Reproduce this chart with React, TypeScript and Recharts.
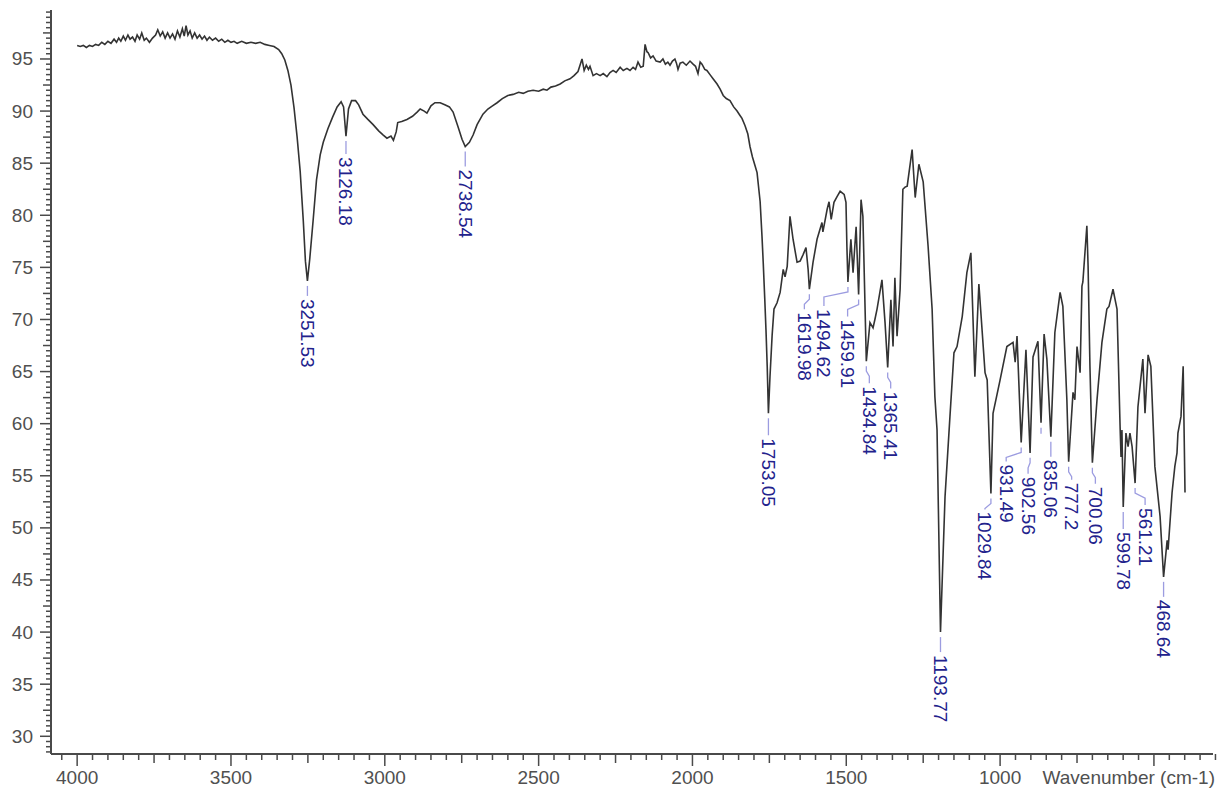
import React from "react";
import { ComposedChart, Line, Scatter, XAxis, YAxis } from "recharts";

// ─── Data (wavenumber cm-1, %T) ───────────────────────────────────────────────

const SPECTRUM_POINTS: [number, number][] = [
  [4000, 96.3], [3990, 96.2], [3980, 96.3], [3970, 96.1], [3960, 96.3], [3950, 96.2],
  [3940, 96.4], [3930, 96.3], [3920, 96.6], [3910, 96.4], [3900, 96.7], [3890, 96.5],
  [3880, 96.9], [3872, 96.6], [3865, 97.0], [3858, 96.7], [3850, 97.2], [3843, 96.8],
  [3835, 97.3], [3828, 96.9], [3820, 97.1], [3812, 96.7], [3805, 97.3], [3797, 96.9],
  [3790, 97.5], [3782, 96.8], [3775, 97.0], [3765, 96.6], [3755, 97.0], [3745, 97.3],
  [3738, 97.8], [3730, 97.2], [3722, 97.6], [3714, 97.0], [3706, 97.5], [3698, 97.0],
  [3690, 97.4], [3682, 96.9], [3674, 97.7], [3666, 97.1], [3658, 97.9], [3652, 97.2],
  [3646, 98.2], [3640, 97.3], [3633, 97.7], [3626, 97.0], [3618, 97.5], [3610, 97.0],
  [3602, 97.3], [3594, 96.9], [3586, 97.2], [3578, 96.8], [3570, 97.1], [3560, 96.8],
  [3550, 97.0], [3540, 96.7], [3530, 96.9], [3520, 96.6], [3510, 96.8], [3500, 96.6],
  [3490, 96.7], [3480, 96.5], [3465, 96.7], [3450, 96.5], [3435, 96.6], [3420, 96.5],
  [3405, 96.6], [3390, 96.4], [3375, 96.3], [3360, 96.2], [3345, 95.9], [3335, 95.5],
  [3325, 94.9], [3315, 93.9], [3305, 92.5], [3295, 90.3], [3285, 87.5], [3275, 84.2],
  [3265, 79.5], [3258, 75.6], [3251.53, 73.7], [3244, 75.8], [3233, 79.5], [3222, 83.4],
  [3210, 85.8], [3200, 87.0], [3185, 88.3], [3170, 89.4], [3155, 90.4], [3142, 90.9],
  [3134, 90.4], [3126.18, 87.6], [3118, 90.2], [3108, 91.0], [3095, 91.0], [3085, 90.6],
  [3071, 89.7], [3055, 89.2], [3038, 88.7], [3020, 88.1], [3005, 87.7], [2993, 87.4],
  [2980, 87.6], [2972, 87.2], [2963, 88.0], [2958, 88.9], [2945, 89.0], [2928, 89.2],
  [2910, 89.5], [2895, 89.9], [2885, 90.2], [2872, 90.0], [2863, 89.8], [2850, 90.5],
  [2837, 90.8], [2820, 90.8], [2805, 90.6], [2790, 90.4], [2778, 89.9], [2762, 88.5],
  [2749, 87.3], [2738.54, 86.6], [2725, 87.0], [2713, 87.7], [2700, 88.7], [2681, 89.7],
  [2665, 90.2], [2650, 90.5], [2635, 90.8], [2618, 91.2], [2600, 91.5], [2583, 91.6],
  [2565, 91.8], [2550, 91.7], [2535, 91.9], [2518, 92.0], [2500, 91.9], [2485, 92.1],
  [2473, 92.0], [2460, 92.3], [2445, 92.4], [2430, 92.6], [2415, 92.9], [2398, 93.1],
  [2385, 93.4], [2372, 93.8], [2359, 95.0], [2352, 93.9], [2345, 94.4], [2338, 94.0],
  [2333, 94.3], [2323, 93.4], [2312, 93.6], [2300, 93.4], [2290, 93.6], [2278, 93.3],
  [2268, 93.7], [2258, 93.9], [2248, 93.7], [2235, 94.2], [2225, 93.9], [2213, 94.1],
  [2203, 93.9], [2193, 94.2], [2185, 94.0], [2177, 94.7], [2168, 94.2], [2160, 94.3],
  [2154, 96.4], [2148, 95.7], [2144, 95.6], [2136, 95.1], [2128, 95.3], [2118, 94.8],
  [2105, 94.7], [2096, 95.0], [2088, 94.5], [2080, 94.7], [2073, 94.4], [2065, 94.8],
  [2057, 95.0], [2052, 94.6], [2047, 94.0], [2040, 94.6], [2031, 94.7], [2020, 94.4],
  [2008, 94.8], [1998, 94.5], [1990, 94.3], [1982, 93.6], [1975, 94.7], [1969, 94.5],
  [1960, 94.0], [1953, 93.9], [1943, 93.5], [1933, 93.1], [1920, 92.6], [1910, 92.1],
  [1900, 91.5], [1890, 91.2], [1878, 91.0], [1866, 90.4], [1855, 90.0], [1846, 89.6],
  [1839, 89.3], [1829, 88.6], [1820, 87.8], [1813, 86.6], [1805, 85.6], [1797, 84.8],
  [1790, 84.1], [1780, 81.3], [1774, 78.0], [1770, 75.5], [1765, 72.0], [1761, 69.0],
  [1757, 65.5], [1753.05, 61.0], [1748, 64.5], [1741, 68.5], [1735, 71.0], [1725, 71.6],
  [1715, 72.6], [1705, 74.8], [1699, 74.1], [1692, 75.1], [1683, 79.9], [1673, 77.7],
  [1660, 75.5], [1650, 75.6], [1640, 76.25], [1631, 76.9], [1624, 74.8], [1619.98, 72.9],
  [1608, 75.5], [1595, 77.7], [1579, 79.3], [1576, 78.4], [1562, 80.6], [1556, 81.3],
  [1549, 79.6], [1540, 81.25], [1530, 81.8], [1520, 82.3], [1507, 82.0], [1501, 81.25],
  [1498, 77.0], [1494.62, 73.6], [1485, 77.7], [1478, 74.5], [1468, 78.9], [1459.91, 72.4],
  [1452, 81.5], [1446, 79.9], [1434.84, 66.0], [1423, 69.7], [1413, 69.2], [1407, 70.0],
  [1400, 71.0], [1384, 73.8], [1374, 69.7], [1365.41, 65.4], [1355, 71.9], [1348, 67.4],
  [1342, 74.0], [1335, 68.4], [1325, 72.9], [1316, 82.5], [1309, 82.7], [1302, 82.8],
  [1286, 86.3], [1276, 81.7], [1264, 84.9], [1250, 83.2], [1234, 77.0], [1221, 71.0],
  [1212, 62.6], [1205, 59.4], [1193.77, 40.0], [1179, 53.0], [1163, 60.7], [1150, 66.8],
  [1140, 67.4], [1123, 70.3], [1108, 74.5], [1095, 76.4], [1082, 64.5], [1069, 73.4],
  [1049, 64.9], [1042, 64.2], [1029.84, 53.3], [1023, 61.0], [1000, 64.2], [978, 67.4],
  [958, 67.8], [951, 65.9], [945, 68.4], [931.49, 58.2], [916, 67.1], [902.56, 57.2],
  [893, 66.4], [877, 67.9], [867, 60.1], [857, 68.6], [848, 66.2], [835.06, 58.75],
  [822, 68.75], [805, 72.6], [796, 71.25], [783, 62.3], [777.2, 56.35], [763, 63.0],
  [757, 62.3], [750, 67.4], [740, 64.9], [734, 73.2], [731, 73.6], [718, 79.0],
  [714, 75.1], [708, 65.5], [700.06, 56.25], [685, 62.3], [669, 67.8], [653, 71.0],
  [646, 71.25], [633, 72.9], [620, 71.0], [610, 59.7], [607, 56.8], [604, 59.4],
  [599.78, 52.0], [591, 59.1], [584, 57.8], [578, 59.1], [571, 57.8], [561.21, 54.3],
  [552, 61.6], [536, 66.2], [529, 61.0], [519, 66.6], [510, 65.5], [497, 55.9],
  [480, 51.1], [468.64, 45.3], [457, 48.8], [454, 47.9], [441, 53.4], [432, 55.9],
  [425, 57.2], [422, 59.1], [412, 60.7], [405, 65.5], [399, 53.4],
];

const PEAK_WAVENUMBERS = [
  3251.53, 3126.18, 2738.54, 1753.05, 1619.98, 1494.62, 1459.91, 1434.84, 1365.41,
  1193.77, 1029.84, 931.49, 902.56, 835.06, 777.2, 700.06, 599.78, 561.21, 468.64,
];
const PEAK_LABELS = [
  "3251.53", "3126.18", "2738.54", "1753.05", "1619.98", "1494.62", "1459.91", "1434.84", "1365.41",
  "1193.77", "1029.84", "931.49", "902.56", "835.06", "777.2", "700.06", "599.78", "561.21", "468.64",
];
// leader without a visible label
const UNLABELED_PEAKS = [867];

const X_MAJOR = [4000, 3500, 3000, 2500, 2000, 1500, 1000, 500];
const X_TICKS = Array.from({ length: 76 }, (_, i) => 4050 - i * 50); // 4050 … 300
const Y_TICKS = Array.from({ length: 143 }, (_, i) => 28.5 + i * 0.5); // 28.5 … 99.5

// ─── Label placement (px offsets from the peak) ───────────────────────────────

const LABEL_SHIFT: Record<string, [number, number]> = {
  "3251.53": [0, 18],
  "3126.18": [0, 21],
  "2738.54": [0, 23],
  "1753.05": [0, 25],
  "1619.98": [-5, 23],
  "1494.62": [-24, 27],
  "1459.91": [-11, 25],
  "1434.84": [3, 25],
  "1365.41": [3, 24],
  "1193.77": [0, 23],
  "1029.84": [-6, 18],
  "931.49": [-15, 22],
  "902.56": [-2, 24],
  "835.06": [0, 23],
  "777.2": [3, 21],
  "700.06": [3, 24],
  "599.78": [0, 25],
  "561.21": [10, 25],
  "468.64": [0, 23],
  "": [0, 14],
};

const FONT = "'Liberation Sans', Arial, sans-serif";
const AXIS = "#4a4a4a";
const LABEL_BLUE = "#22228c";
const LEADER = "#9c9ce0";

// ─── Helpers ──────────────────────────────────────────────────────────────────

const lookupT = (w: number) => {
  const p = SPECTRUM_POINTS.find((d) => d[0] === w);
  return p ? p[1] : 0;
};

const spectrum = SPECTRUM_POINTS.map(([w, t]) => ({ w, t }));

const peaks = [
  ...PEAK_WAVENUMBERS.map((w, i) => ({ w, t: lookupT(w), label: PEAK_LABELS[i] })),
  ...UNLABELED_PEAKS.map((w) => ({ w, t: lookupT(w), label: "" })),
];

function XTick({ x, y, payload }: any) {
  const v = payload.value;
  const major = v % 500 === 0;
  const mid = v % 250 === 0;
  const len = major ? 12 : mid ? 9 : 6;
  return (
    <g>
      <line x1={x} y1={y} x2={x} y2={y + len} stroke={AXIS} strokeWidth={1.5} />
      {major && v !== 500 && (
        <text x={x} y={y + 30} textAnchor="middle" fontSize={19} fill="#505050" fontFamily={FONT}>
          {v}
        </text>
      )}
    </g>
  );
}

function YTick({ x, y, payload }: any) {
  const v = payload.value;
  const h = Math.round(v * 2);
  const major = h % 10 === 0;
  const mid = h % 5 === 0;
  const len = major ? 11 : mid ? 8 : 5;
  return (
    <g>
      <line x1={x - len} y1={y} x2={x} y2={y} stroke={AXIS} strokeWidth={1.5} />
      {major && (
        <text x={x - 18} y={y} textAnchor="end" dominantBaseline="central" fontSize={19} fill="#505050" fontFamily={FONT}>
          {v}
        </text>
      )}
    </g>
  );
}

function PeakMark(props: any) {
  const { cx, cy, payload } = props;
  if (cx == null || cy == null) return null;
  const [dx, dy] = LABEL_SHIFT[payload.label] ?? [0, 22];
  const tx = cx + dx;
  const end = cy + dy - 3;
  const pts =
    dx === 0
      ? `${cx},${cy + 5} ${cx},${end}`
      : `${cx},${cy + 5} ${cx},${cy + 10} ${tx},${cy + 15} ${tx},${Math.max(end, cy + 16)}`;
  return (
    <g>
      <polyline points={pts} fill="none" stroke={LEADER} strokeWidth={1.3} />
      {payload.label && (
        <text
          transform={`translate(${tx}, ${cy + dy}) rotate(90)`}
          textAnchor="start"
          dominantBaseline="central"
          fontSize={19}
          fill={LABEL_BLUE}
          fontFamily={FONT}
        >
          {payload.label}
        </text>
      )}
    </g>
  );
}

// ─── Chart ────────────────────────────────────────────────────────────────────

export default function App() {
  return (
    <div style={{ position: "absolute", left: 0, top: 0, background: "#fff" }}>
      <ComposedChart
        width={1218}
        height={788}
        data={spectrum}
        margin={{ top: 10, right: 5, bottom: 0, left: 0 }}
      >
        <XAxis
          dataKey="w"
          type="number"
          domain={[308, 4085]}
          reversed
          allowDataOverflow
          ticks={X_TICKS}
          interval={0}
          height={34}
          tickSize={0}
          tickMargin={0}
          tickLine={false}
          tick={<XTick />}
          axisLine={{ stroke: AXIS, strokeWidth: 2 }}
          label={{
            content: ({ viewBox }: any) => (
              <text
                x={viewBox.x + viewBox.width + 2}
                y={viewBox.y + 30}
                textAnchor="end"
                fontSize={19}
                fill="#505050"
                fontFamily={FONT}
              >
                Wavenumber (cm-1)
              </text>
            ),
          }}
        />
        <YAxis
          type="number"
          domain={[28.3, 99.7]}
          allowDataOverflow
          ticks={Y_TICKS}
          interval={0}
          width={51}
          tickSize={0}
          tickMargin={0}
          tickLine={false}
          tick={<YTick />}
          axisLine={{ stroke: AXIS, strokeWidth: 2 }}
        />
        <Line
          dataKey="t"
          type="linear"
          stroke="#333333"
          strokeWidth={1.6}
          dot={false}
          activeDot={false}
          isAnimationActive={false}
        />
        <Scatter data={peaks} dataKey="t" shape={PeakMark} isAnimationActive={false} />
      </ComposedChart>
    </div>
  );
}
